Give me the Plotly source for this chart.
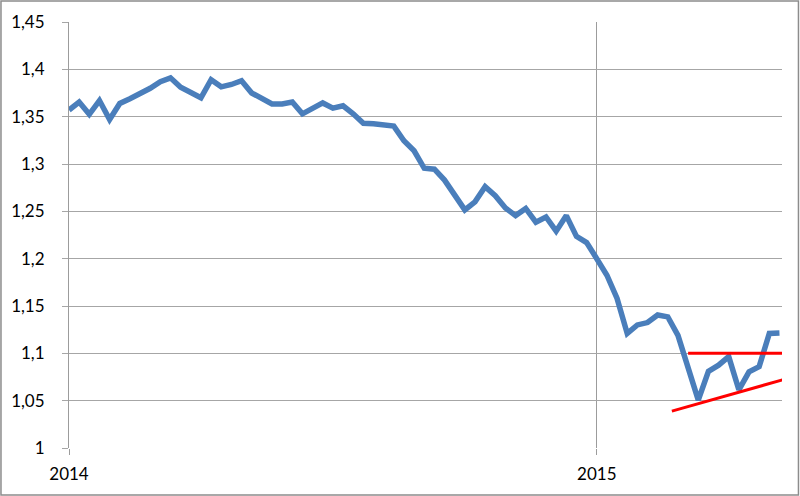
import plotly.graph_objects as go

# Weekly EUR/USD-like values, week index 0 = start of 2014
week_index = list(range(71))
rate = [1.357, 1.3655, 1.3525, 1.367, 1.347, 1.364, 1.369, 1.374, 1.380, 1.387,
        1.391, 1.381, 1.3755, 1.370, 1.389, 1.3815, 1.384, 1.388, 1.375, 1.370,
        1.3635, 1.3635, 1.3655, 1.353, 1.3595, 1.3645, 1.359, 1.3615, 1.353, 1.343,
        1.3425, 1.3415, 1.340, 1.3245, 1.314, 1.2955, 1.2945, 1.283, 1.267, 1.2515,
        1.260, 1.276, 1.2665, 1.2535, 1.2455, 1.253, 1.2385, 1.244, 1.229, 1.2455,
        1.2235, 1.217, 1.200, 1.1825, 1.158, 1.121, 1.130, 1.1325, 1.1405, 1.1385,
        1.119, 1.085, 1.0505, 1.081, 1.0875, 1.0965, 1.0615, 1.0805, 1.086, 1.121,
        1.1215]

# Annotation lines (resistance and rising support)
resistance_x = [61.0, 70.3]
resistance_y = [1.1, 1.1]
support_x = [59.4, 70.5]
support_y = [1.039, 1.0726]

x_tickvals = [0, 52]
x_ticktext = ["2014", "2015"]
y_tickvals = [1.0, 1.05, 1.1, 1.15, 1.2, 1.25, 1.3, 1.35, 1.4, 1.45]
y_ticktext = ["1", "1,05", "1,1", "1,15", "1,2", "1,25", "1,3", "1,35", "1,4", "1,45"]

fig = go.Figure()
fig.add_trace(go.Scatter(x=week_index, y=rate, mode="lines",
                         line=dict(color="#4a7ebb", width=5.5), showlegend=False))
fig.add_trace(go.Scatter(x=resistance_x, y=resistance_y, mode="lines",
                         line=dict(color="#ff0000", width=3), showlegend=False))
fig.add_trace(go.Scatter(x=support_x, y=support_y, mode="lines",
                         line=dict(color="#ff0000", width=3), showlegend=False))

fig.update_layout(
    width=800, height=496, autosize=False,
    margin=dict(l=69, r=18, t=22, b=48, pad=0, autoexpand=False),
    paper_bgcolor="white", plot_bgcolor="white",
    font=dict(family="Lato", size=17, color="#000000"),
    xaxis=dict(range=[0, 70.25], tickmode="array", tickvals=x_tickvals, ticktext=x_ticktext,
               showgrid=True, gridcolor="#9c9c9c", gridwidth=1,
               ticks="outside", ticklen=6, tickcolor="#9c9c9c", automargin=False,
               showline=False, zeroline=False, ticklabelstandoff=5),
    yaxis=dict(range=[1.0, 1.45], tickmode="array", tickvals=y_tickvals, ticktext=y_ticktext,
               showgrid=True, gridcolor="#a6a6a6", gridwidth=1,
               ticks="outside", ticklen=6, tickcolor="#a6a6a6", automargin=False,
               showline=True, linecolor="#9c9c9c", linewidth=1,
               zeroline=False, ticklabelstandoff=14),
    shapes=[dict(type="rect", xref="paper", yref="paper",
                 x0=-0.0954, x1=1.0231, y0=-0.1103, y1=1.0493,
                 line=dict(color="#8c8c8c", width=1.5), fillcolor="rgba(0,0,0,0)")],
)

fig.write_html("out.html", config={"displayModeBar": False},
               post_script="document.body.style.margin='0';document.body.style.padding='0';")
